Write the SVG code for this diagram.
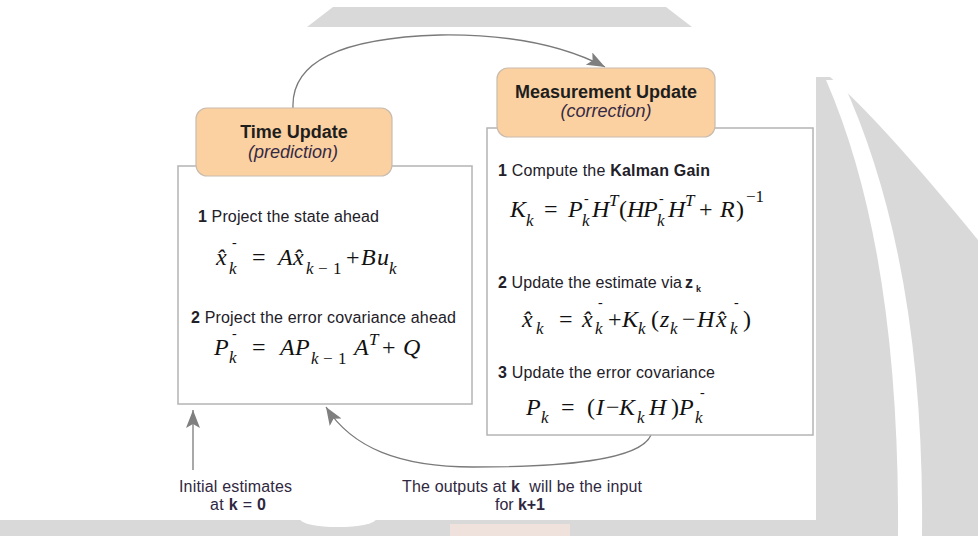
<svg xmlns="http://www.w3.org/2000/svg" width="978" height="536" viewBox="0 0 978 536">
<style>
.wm{fill:#d9d9d9}
.panel{fill:#ffffff;stroke:#b4b4b4;stroke-width:1.5}
.title{fill:#fcd1a1;stroke:#c9bcae;stroke-width:1.2}
.t{font-family:"Liberation Sans",Arial,sans-serif;font-size:16px;fill:#222028}
.b{font-weight:bold}
.h{font-family:"Liberation Sans",Arial,sans-serif;font-size:18px;font-weight:bold;fill:#1e1e1e;text-anchor:middle}
.s{font-family:"Liberation Sans",Arial,sans-serif;font-size:18px;font-style:italic;fill:#352a45;text-anchor:middle}
.lab{font-family:"Liberation Sans",Arial,sans-serif;font-size:16px;fill:#302840}
.m{font-family:"Liberation Serif","Times New Roman",serif;font-size:24px;font-style:italic;fill:#111}
.u{font-style:normal}
.sb{font-size:17px}
.sp{font-size:14px;font-style:normal}
.conn{fill:none;stroke:#7a7a7a;stroke-width:1.3}
</style>
<defs>
<marker id="ah" markerUnits="userSpaceOnUse" markerWidth="22" markerHeight="16" refX="18" refY="7" orient="auto">
<path d="M0,0 L18,7 L0,14 L4,7 z" fill="#7f7f7f"/>
</marker>
</defs>
<rect width="978" height="536" fill="#ffffff"/>
<g id="watermark">
<polygon class="wm" points="307,27 333,7 666,7 692,27"/>
<rect class="wm" x="0" y="520" width="978" height="16"/>
<path class="wm" d="M816,77 L830,77 Q 880,120 978,240 L978,536 L816,536 z"/>
<path d="M826,80 Q 900,250 898,536 L922,536 Q 925,260 842,80 z" fill="#ffffff"/>
<ellipse cx="338" cy="519" rx="38" ry="8" fill="#ffffff"/>
<rect x="450" y="524" width="120" height="12" fill="#efe2dc"/>
</g>
<rect x="163" y="27" width="653" height="493" fill="#ffffff"/>
<g id="connectors">
<path class="conn" d="M293,108 C291,62 340,38 440,35 C510,34 565,46 605,67" marker-end="url(#ah)"/>
<path class="conn" d="M651,435 C640,461 560,467 473,467 C400,467 352,448 326,407" marker-end="url(#ah)"/>
<path class="conn" d="M193,470 L193,410" marker-end="url(#ah)"/>
</g>
<g id="time-update">
<rect class="panel" x="178" y="166" width="294" height="238"/>
<rect class="title" x="196" y="108" width="196" height="68" rx="11"/>
<text class="h" x="294" y="138">Time Update</text>
<text class="s" x="293" y="158">(prediction)</text>
<text class="t" x="198" y="222" textLength="181"><tspan class="b">1</tspan> Project the state ahead</text>
<text class="m"><tspan x="216" y="265">x̂</tspan><tspan class="sp" x="232" y="247">-</tspan><tspan class="sb" x="229" y="274">k</tspan><tspan class="u" x="252" y="265">=</tspan><tspan x="278" y="265">A</tspan><tspan x="293" y="265">x̂</tspan><tspan class="sb" x="306" y="274">k</tspan><tspan class="sb u" x="318" y="274">−</tspan><tspan class="sb u" x="333" y="274">1</tspan><tspan class="u" x="346" y="265">+</tspan><tspan x="361" y="265">B</tspan><tspan x="377" y="265">u</tspan><tspan class="sb" x="389" y="274">k</tspan></text>
<text class="t" x="191" y="323" textLength="265"><tspan class="b">2</tspan> Project the error covariance ahead</text>
<text class="m"><tspan x="214" y="355">P</tspan><tspan class="sp" x="232" y="338">-</tspan><tspan class="sb" x="229" y="363">k</tspan><tspan class="u" x="252" y="355">=</tspan><tspan x="280" y="355">A</tspan><tspan x="295" y="355">P</tspan><tspan class="sb" x="311" y="364">k</tspan><tspan class="sb u" x="323" y="364">−</tspan><tspan class="sb u" x="338" y="364">1</tspan><tspan x="354" y="355">A</tspan><tspan class="sb" x="369" y="345">T</tspan><tspan class="u" x="382" y="355">+</tspan><tspan x="403" y="355">Q</tspan></text>
</g>
<g id="measurement-update">
<rect class="panel" x="487" y="128" width="326" height="307"/>
<rect class="title" x="497" y="68" width="218" height="69" rx="11"/>
<text class="h" x="606" y="98">Measurement Update</text>
<text class="s" x="606" y="117">(correction)</text>
<text class="t" x="498" y="176" textLength="212"><tspan class="b">1</tspan> Compute the <tspan class="b">Kalman Gain</tspan></text>
<text class="m"><tspan x="510" y="217">K</tspan><tspan class="sb" x="526" y="226">k</tspan><tspan class="u" x="544" y="217">=</tspan><tspan x="568" y="217">P</tspan><tspan class="sp" x="584" y="203">-</tspan><tspan class="sb" x="582" y="226">k</tspan><tspan x="592" y="217">H</tspan><tspan class="sb" x="609" y="206">T</tspan><tspan class="u" x="619" y="217">(</tspan><tspan x="627" y="217">H</tspan><tspan x="643" y="217">P</tspan><tspan class="sp" x="659" y="203">-</tspan><tspan class="sb" x="657" y="226">k</tspan><tspan x="668" y="217">H</tspan><tspan class="sb" x="685" y="206">T</tspan><tspan class="u" x="699" y="217">+</tspan><tspan x="720" y="217">R</tspan><tspan class="u" x="736" y="217">)</tspan><tspan class="sb u" x="746" y="202">−1</tspan></text>
<text class="t" x="498" y="288" textLength="184"><tspan class="b">2</tspan> Update the estimate via</text>
<text class="t b" x="685" y="288">z<tspan font-size="9" x="696" y="292">k</tspan></text>
<text class="m"><tspan x="522" y="327">x̂</tspan><tspan class="sb" x="536" y="334">k</tspan><tspan class="u" x="559" y="327">=</tspan><tspan x="582" y="327">x̂</tspan><tspan class="sp" x="598" y="307">-</tspan><tspan class="sb" x="595" y="334">k</tspan><tspan class="u" x="608" y="327">+</tspan><tspan x="622" y="327">K</tspan><tspan class="sb" x="638" y="334">k</tspan><tspan class="u" x="651" y="327">(</tspan><tspan x="660" y="327">z</tspan><tspan class="sb" x="670" y="334">k</tspan><tspan class="u" x="682" y="327">−</tspan><tspan x="697" y="327">H</tspan><tspan x="716" y="327">x̂</tspan><tspan class="sp" x="734" y="307">-</tspan><tspan class="sb" x="730" y="334">k</tspan><tspan class="u" x="743" y="327">)</tspan></text>
<text class="t" x="498" y="378" textLength="217"><tspan class="b">3</tspan> Update the error covariance</text>
<text class="m"><tspan x="526" y="415">P</tspan><tspan class="sb" x="541" y="423">k</tspan><tspan class="u" x="561" y="415">=</tspan><tspan class="u" x="587" y="415">(</tspan><tspan x="596" y="415">I</tspan><tspan class="u" x="606" y="415">−</tspan><tspan x="619" y="415">K</tspan><tspan class="sb" x="637" y="423">k</tspan><tspan x="649" y="415">H</tspan><tspan class="u" x="671" y="415">)</tspan><tspan x="679" y="415">P</tspan><tspan class="sp" x="700" y="397">-</tspan><tspan class="sb" x="695" y="423">k</tspan></text>
</g>
<g id="labels">
<text class="lab" x="179" y="492" textLength="113">Initial estimates</text>
<text class="lab" x="210" y="510" textLength="56">at <tspan class="b">k</tspan> = <tspan class="b">0</tspan></text>
<text class="lab" x="402" y="492" textLength="240">The outputs at <tspan class="b">k</tspan>&#160; will be the input</text>
<text class="lab" x="495" y="510" textLength="50">for <tspan class="b">k+1</tspan></text>
</g>
</svg>
